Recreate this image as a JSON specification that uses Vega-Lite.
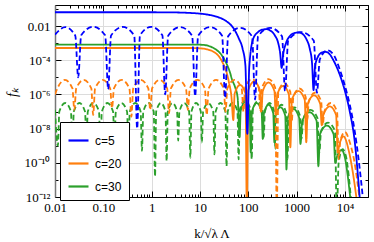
{
"$schema": "https://vega.github.io/schema/vega-lite/v6.json",
"width": 313, "height": 192,
"autosize": {"type": "none"},
"padding": {"left": 55, "top": 5, "right": 6, "bottom": 45},
"config": {"view": {"stroke": "black", "strokeWidth": 1}, "font": "Liberation Serif", "background": "white"},
"data": {"values": [
{"c":"c=30","t":"d","x":0.01,"y":1.259e-7},{"c":"c=30","t":"d","x":0.01148,"y":1e-9},{"c":"c=30","t":"d","x":0.0123,"y":1e-7},{"c":"c=30","t":"d","x":0.01622,"y":3.16e-7},{"c":"c=30","t":"d","x":0.02138,"y":1e-7},{"c":"c=30","t":"d","x":0.02291,"y":5.01e-10},{"c":"c=30","t":"d","x":0.02449,"y":1e-7},{"c":"c=30","t":"d","x":0.03199,"y":3.16e-7},{"c":"c=30","t":"d","x":0.04178,"y":1e-7},{"c":"c=30","t":"d","x":0.04467,"y":2e-9},{"c":"c=30","t":"d","x":0.04775,"y":1e-7},{"c":"c=30","t":"d","x":0.06237,"y":3.16e-7},{"c":"c=30","t":"d","x":0.08147,"y":1e-7},{"c":"c=30","t":"d","x":0.0871,"y":3.16e-10},{"c":"c=30","t":"d","x":0.09311,"y":1e-7},{"c":"c=30","t":"d","x":0.1216,"y":3.16e-7},{"c":"c=30","t":"d","x":0.1589,"y":1e-7},{"c":"c=30","t":"d","x":0.1698,"y":1.585e-9},{"c":"c=30","t":"d","x":0.1816,"y":1e-7},{"c":"c=30","t":"d","x":0.2371,"y":3.16e-7},{"c":"c=30","t":"d","x":0.3097,"y":1e-7},{"c":"c=30","t":"d","x":0.3311,"y":6.31e-10},{"c":"c=30","t":"d","x":0.3532,"y":1e-7},{"c":"c=30","t":"d","x":0.4571,"y":3.16e-7},{"c":"c=30","t":"d","x":0.5916,"y":1e-7},{"c":"c=30","t":"d","x":0.631,"y":5.01e-10},{"c":"c=30","t":"d","x":0.6714,"y":1e-7},{"c":"c=30","t":"d","x":0.861,"y":3.16e-7},{"c":"c=30","t":"d","x":1.104,"y":1e-7},{"c":"c=30","t":"d","x":1.175,"y":1.585e-11},{"c":"c=30","t":"d","x":1.242,"y":1e-7},{"c":"c=30","t":"d","x":1.549,"y":3.16e-7},{"c":"c=30","t":"d","x":1.932,"y":1e-7},{"c":"c=30","t":"d","x":2.042,"y":1.259e-10},{"c":"c=30","t":"d","x":2.158,"y":1e-7},{"c":"c=30","t":"d","x":2.692,"y":3.16e-7},{"c":"c=30","t":"d","x":3.357,"y":1e-7},{"c":"c=30","t":"d","x":3.548,"y":2e-9},{"c":"c=30","t":"d","x":3.758,"y":1e-7},{"c":"c=30","t":"d","x":4.732,"y":3.16e-7},{"c":"c=30","t":"d","x":5.957,"y":1e-7},{"c":"c=30","t":"d","x":6.31,"y":2e-10},{"c":"c=30","t":"d","x":6.668,"y":1e-7},{"c":"c=30","t":"d","x":8.318,"y":3.16e-7},{"c":"c=30","t":"d","x":10.38,"y":1e-7},{"c":"c=30","t":"d","x":10.96,"y":1.585e-9},{"c":"c=30","t":"d","x":11.64,"y":1e-7},{"c":"c=30","t":"d","x":14.79,"y":3.16e-7},{"c":"c=30","t":"d","x":18.79,"y":1e-7},{"c":"c=30","t":"d","x":19.95,"y":3.16e-10},{"c":"c=30","t":"d","x":21.13,"y":1e-7},{"c":"c=30","t":"d","x":26.61,"y":3.16e-7},{"c":"c=30","t":"d","x":33.5,"y":1e-7},{"c":"c=30","t":"d","x":35.48,"y":6.31e-11},{"c":"c=30","t":"d","x":37.58,"y":1e-7},{"c":"c=30","t":"d","x":47.32,"y":3.16e-7},{"c":"c=30","t":"d","x":59.57,"y":1e-7},{"c":"c=30","t":"d","x":63.1,"y":1.585e-10},{"c":"c=30","t":"d","x":67.14,"y":1.413e-7},{"c":"c=30","t":"d","x":86.1,"y":4.467e-7},{"c":"c=30","t":"d","x":110.4,"y":1.413e-7},{"c":"c=30","t":"d","x":117.5,"y":1.585e-10},{"c":"c=30","t":"d","x":124.5,"y":1.259e-7},{"c":"c=30","t":"d","x":156.7,"y":3.98e-7},{"c":"c=30","t":"d","x":197.2,"y":1.259e-7},{"c":"c=30","t":"d","x":208.9,"y":3.16e-9},{"c":"c=30","t":"d","x":220.8,"y":1e-7},{"c":"c=30","t":"d","x":275.4,"y":3.16e-7},{"c":"c=30","t":"d","x":343.6,"y":1e-7},{"c":"c=30","t":"d","x":363.1,"y":6.31e-10},{"c":"c=30","t":"d","x":384.6,"y":7.94e-8},{"c":"c=30","t":"d","x":484.2,"y":2.51e-7},{"c":"c=30","t":"d","x":609.5,"y":7.94e-8},{"c":"c=30","t":"d","x":645.7,"y":1.585e-10},{"c":"c=30","t":"d","x":690.2,"y":5.62e-8},{"c":"c=30","t":"d","x":901.6,"y":1.778e-7},{"c":"c=30","t":"d","x":1178,"y":5.62e-8},{"c":"c=30","t":"d","x":1259,"y":2.51e-9},{"c":"c=30","t":"d","x":1371,"y":3.98e-8},{"c":"c=30","t":"d","x":1928,"y":1.259e-7},{"c":"c=30","t":"d","x":2710,"y":3.98e-8},{"c":"c=30","t":"d","x":2951,"y":3.98e-10},{"c":"c=30","t":"d","x":3206,"y":7.08e-9},{"c":"c=30","t":"d","x":4467,"y":2.24e-8},{"c":"c=30","t":"d","x":6223,"y":7.08e-9},{"c":"c=30","t":"d","x":6761,"y":1e-13},{"c":"c=30","t":"d","x":7413,"y":1e-10},{"c":"c=30","t":"d","x":8913,"y":6.31e-10},{"c":"c=30","t":"d","x":10470,"y":2.51e-10},{"c":"c=30","t":"d","x":12020,"y":1.585e-11},{"c":"c=30","t":"d","x":13490,"y":5.01e-13},
{"c":"c=30","t":"s","x":0.01,"y":8.32e-4},{"c":"c=30","t":"s","x":1,"y":8.32e-4},{"c":"c=30","t":"s","x":7.943,"y":8.32e-4},{"c":"c=30","t":"s","x":11.75,"y":7.94e-4},{"c":"c=30","t":"s","x":15.85,"y":6.61e-4},{"c":"c=30","t":"s","x":22.39,"y":3.89e-4},{"c":"c=30","t":"s","x":28.18,"y":2e-4},{"c":"c=30","t":"s","x":35.48,"y":6.31e-5},{"c":"c=30","t":"s","x":41.69,"y":2e-5},{"c":"c=30","t":"s","x":45.71,"y":7.94e-6},{"c":"c=30","t":"s","x":53.7,"y":2.51e-6},{"c":"c=30","t":"s","x":60.26,"y":6.31e-7},{"c":"c=30","t":"s","x":66.07,"y":3.16e-9},{"c":"c=30","t":"s","x":69.66,"y":1.122e-7},{"c":"c=30","t":"s","x":86.1,"y":3.55e-7},{"c":"c=30","t":"s","x":106.4,"y":1.122e-7},{"c":"c=30","t":"s","x":112.2,"y":3.98e-10},{"c":"c=30","t":"s","x":118.9,"y":1e-7},{"c":"c=30","t":"s","x":149.6,"y":3.16e-7},{"c":"c=30","t":"s","x":188.4,"y":1e-7},{"c":"c=30","t":"s","x":199.5,"y":2.51e-9},{"c":"c=30","t":"s","x":210.9,"y":7.94e-8},{"c":"c=30","t":"s","x":263,"y":2.51e-7},{"c":"c=30","t":"s","x":328.1,"y":7.94e-8},{"c":"c=30","t":"s","x":346.7,"y":1.585e-9},{"c":"c=30","t":"s","x":367.3,"y":5.62e-8},{"c":"c=30","t":"s","x":462.4,"y":1.778e-7},{"c":"c=30","t":"s","x":582.1,"y":5.62e-8},{"c":"c=30","t":"s","x":616.6,"y":3.98e-11},{"c":"c=30","t":"s","x":659.2,"y":4.467e-8},{"c":"c=30","t":"s","x":861,"y":1.413e-7},{"c":"c=30","t":"s","x":1125,"y":4.467e-8},{"c":"c=30","t":"s","x":1202,"y":1.259e-9},{"c":"c=30","t":"s","x":1309,"y":2.88e-8},{"c":"c=30","t":"s","x":1841,"y":9.12e-8},{"c":"c=30","t":"s","x":2588,"y":2.88e-8},{"c":"c=30","t":"s","x":2818,"y":6.31e-11},{"c":"c=30","t":"s","x":3055,"y":4.79e-9},{"c":"c=30","t":"s","x":4217,"y":1.514e-8},{"c":"c=30","t":"s","x":5821,"y":4.79e-9},{"c":"c=30","t":"s","x":6310,"y":1e-10},{"c":"c=30","t":"s","x":6918,"y":2.51e-10},{"c":"c=30","t":"s","x":8511,"y":5.62e-10},{"c":"c=30","t":"s","x":10000,"y":2e-10},{"c":"c=30","t":"s","x":11480,"y":1.585e-11},{"c":"c=30","t":"s","x":13180,"y":5.01e-13},
{"c":"c=20","t":"d","x":0.01,"y":1e-6},{"c":"c=20","t":"d","x":0.01119,"y":2.24e-6},{"c":"c=20","t":"d","x":0.01603,"y":7.08e-6},{"c":"c=20","t":"d","x":0.02296,"y":2.24e-6},{"c":"c=20","t":"d","x":0.02512,"y":1.259e-7},{"c":"c=20","t":"d","x":0.02748,"y":2.24e-6},{"c":"c=20","t":"d","x":0.03936,"y":7.08e-6},{"c":"c=20","t":"d","x":0.05636,"y":2.24e-6},{"c":"c=20","t":"d","x":0.06166,"y":6.31e-8},{"c":"c=20","t":"d","x":0.06745,"y":2.24e-6},{"c":"c=20","t":"d","x":0.0966,"y":7.08e-6},{"c":"c=20","t":"d","x":0.1384,"y":2.24e-6},{"c":"c=20","t":"d","x":0.1514,"y":1.585e-7},{"c":"c=20","t":"d","x":0.166,"y":2.24e-6},{"c":"c=20","t":"d","x":0.2399,"y":7.08e-6},{"c":"c=20","t":"d","x":0.3467,"y":2.24e-6},{"c":"c=20","t":"d","x":0.3802,"y":5.01e-8},{"c":"c=20","t":"d","x":0.4159,"y":2.24e-6},{"c":"c=20","t":"d","x":0.5957,"y":7.08e-6},{"c":"c=20","t":"d","x":0.8531,"y":2.24e-6},{"c":"c=20","t":"d","x":0.9333,"y":1.259e-7},{"c":"c=20","t":"d","x":1.021,"y":2.24e-6},{"c":"c=20","t":"d","x":1.462,"y":7.08e-6},{"c":"c=20","t":"d","x":2.094,"y":2.24e-6},{"c":"c=20","t":"d","x":2.291,"y":7.94e-8},{"c":"c=20","t":"d","x":2.506,"y":2.24e-6},{"c":"c=20","t":"d","x":3.589,"y":7.08e-6},{"c":"c=20","t":"d","x":5.14,"y":2.24e-6},{"c":"c=20","t":"d","x":5.623,"y":1.259e-7},{"c":"c=20","t":"d","x":6.152,"y":2.24e-6},{"c":"c=20","t":"d","x":8.81,"y":7.08e-6},{"c":"c=20","t":"d","x":12.62,"y":2.24e-6},{"c":"c=20","t":"d","x":13.8,"y":6.31e-8},{"c":"c=20","t":"d","x":15.1,"y":2.24e-6},{"c":"c=20","t":"d","x":21.63,"y":7.08e-6},{"c":"c=20","t":"d","x":30.97,"y":2.24e-6},{"c":"c=20","t":"d","x":33.88,"y":1e-7},{"c":"c=20","t":"d","x":36.9,"y":2.24e-6},{"c":"c=20","t":"d","x":51.88,"y":7.08e-6},{"c":"c=20","t":"d","x":72.95,"y":2.24e-6},{"c":"c=20","t":"d","x":79.43,"y":1e-7},{"c":"c=20","t":"d","x":86.1,"y":2.51e-6},{"c":"c=20","t":"d","x":118.9,"y":7.94e-6},{"c":"c=20","t":"d","x":164.1,"y":2.51e-6},{"c":"c=20","t":"d","x":177.8,"y":1e-7},{"c":"c=20","t":"d","x":192.3,"y":2.51e-6},{"c":"c=20","t":"d","x":263,"y":7.94e-6},{"c":"c=20","t":"d","x":359.7,"y":2.51e-6},{"c":"c=20","t":"d","x":389,"y":1e-13},{"c":"c=20","t":"d","x":417.8,"y":1.413e-6},{"c":"c=20","t":"d","x":555.9,"y":4.467e-6},{"c":"c=20","t":"d","x":739.6,"y":1.413e-6},{"c":"c=20","t":"d","x":794.3,"y":2.51e-8},{"c":"c=20","t":"d","x":855.1,"y":7.08e-7},{"c":"c=20","t":"d","x":1148,"y":2.24e-6},{"c":"c=20","t":"d","x":1542,"y":7.08e-7},{"c":"c=20","t":"d","x":1660,"y":3.16e-8},{"c":"c=20","t":"d","x":1786,"y":3.98e-7},{"c":"c=20","t":"d","x":2399,"y":1.259e-6},{"c":"c=20","t":"d","x":3221,"y":3.98e-7},{"c":"c=20","t":"d","x":3467,"y":1.585e-8},{"c":"c=20","t":"d","x":3741,"y":1e-7},{"c":"c=20","t":"d","x":5070,"y":3.16e-7},{"c":"c=20","t":"d","x":6871,"y":1e-7},{"c":"c=20","t":"d","x":7413,"y":1.585e-10},{"c":"c=20","t":"d","x":8035,"y":2e-9},{"c":"c=20","t":"d","x":10000,"y":6.31e-9},{"c":"c=20","t":"d","x":12590,"y":1.585e-9},{"c":"c=20","t":"d","x":15850,"y":1e-10},{"c":"c=20","t":"d","x":20420,"y":5.01e-13},
{"c":"c=20","t":"s","x":0.01,"y":5.25e-4},{"c":"c=20","t":"s","x":1,"y":5.25e-4},{"c":"c=20","t":"s","x":6.31,"y":5.25e-4},{"c":"c=20","t":"s","x":10,"y":5.01e-4},{"c":"c=20","t":"s","x":14.13,"y":4.37e-4},{"c":"c=20","t":"s","x":19.05,"y":3.16e-4},{"c":"c=20","t":"s","x":25.12,"y":1.585e-4},{"c":"c=20","t":"s","x":30.2,"y":6.31e-5},{"c":"c=20","t":"s","x":35.48,"y":2e-5},{"c":"c=20","t":"s","x":39.81,"y":5.01e-6},{"c":"c=20","t":"s","x":44.67,"y":7.94e-7},{"c":"c=20","t":"s","x":48.98,"y":3.16e-8},{"c":"c=20","t":"s","x":52.24,"y":1.122e-6},{"c":"c=20","t":"s","x":67.61,"y":3.55e-6},{"c":"c=20","t":"s","x":87.5,"y":1.122e-6},{"c":"c=20","t":"s","x":93.33,"y":1e-13},{"c":"c=20","t":"s","x":100,"y":1.778e-6},{"c":"c=20","t":"s","x":131.8,"y":5.62e-6},{"c":"c=20","t":"s","x":173.8,"y":1.778e-6},{"c":"c=20","t":"s","x":186.2,"y":1e-7},{"c":"c=20","t":"s","x":199.5,"y":1.585e-6},{"c":"c=20","t":"s","x":263,"y":5.01e-6},{"c":"c=20","t":"s","x":346.7,"y":1.585e-6},{"c":"c=20","t":"s","x":371.5,"y":6.31e-8},{"c":"c=20","t":"s","x":398.1,"y":1e-6},{"c":"c=20","t":"s","x":524.8,"y":3.16e-6},{"c":"c=20","t":"s","x":691.8,"y":1e-6},{"c":"c=20","t":"s","x":741.3,"y":7.94e-10},{"c":"c=20","t":"s","x":799.8,"y":5.01e-7},{"c":"c=20","t":"s","x":1084,"y":1.585e-6},{"c":"c=20","t":"s","x":1469,"y":5.01e-7},{"c":"c=20","t":"s","x":1585,"y":1.585e-9},{"c":"c=20","t":"s","x":1706,"y":2.82e-7},{"c":"c=20","t":"s","x":2291,"y":8.91e-7},{"c":"c=20","t":"s","x":3076,"y":2.82e-7},{"c":"c=20","t":"s","x":3311,"y":1.585e-8},{"c":"c=20","t":"s","x":3573,"y":6.31e-8},{"c":"c=20","t":"s","x":4842,"y":2e-7},{"c":"c=20","t":"s","x":6561,"y":6.31e-8},{"c":"c=20","t":"s","x":7079,"y":3.98e-10},{"c":"c=20","t":"s","x":7586,"y":1e-9},{"c":"c=20","t":"s","x":9333,"y":3.55e-9},{"c":"c=20","t":"s","x":12020,"y":5.01e-10},{"c":"c=20","t":"s","x":14450,"y":3.16e-11},{"c":"c=20","t":"s","x":17780,"y":5.01e-13},
{"c":"c=5","t":"d","x":0.01,"y":3.16e-3},{"c":"c=5","t":"d","x":0.01622,"y":8.71e-3},{"c":"c=5","t":"d","x":0.0263,"y":2.75e-3},{"c":"c=5","t":"d","x":0.0302,"y":1e-5},{"c":"c=5","t":"d","x":0.03483,"y":2.88e-3},{"c":"c=5","t":"d","x":0.06166,"y":9.12e-3},{"c":"c=5","t":"d","x":0.1091,"y":2.88e-3},{"c":"c=5","t":"d","x":0.1259,"y":2e-6},{"c":"c=5","t":"d","x":0.1445,"y":2.82e-3},{"c":"c=5","t":"d","x":0.2512,"y":8.91e-3},{"c":"c=5","t":"d","x":0.4365,"y":2.82e-3},{"c":"c=5","t":"d","x":0.5012,"y":1e-8},{"c":"c=5","t":"d","x":0.5728,"y":2.88e-3},{"c":"c=5","t":"d","x":0.9772,"y":9.12e-3},{"c":"c=5","t":"d","x":1.667,"y":2.88e-3},{"c":"c=5","t":"d","x":1.905,"y":1e-6},{"c":"c=5","t":"d","x":2.198,"y":2.75e-3},{"c":"c=5","t":"d","x":3.89,"y":8.71e-3},{"c":"c=5","t":"d","x":6.887,"y":2.75e-3},{"c":"c=5","t":"d","x":7.943,"y":7.94e-7},{"c":"c=5","t":"d","x":9.162,"y":2.75e-3},{"c":"c=5","t":"d","x":16.22,"y":8.71e-3},{"c":"c=5","t":"d","x":28.71,"y":2.75e-3},{"c":"c=5","t":"d","x":33.11,"y":6.31e-7},{"c":"c=5","t":"d","x":38.19,"y":2.51e-3},{"c":"c=5","t":"d","x":67.61,"y":7.94e-3},{"c":"c=5","t":"d","x":119.7,"y":2.51e-3},{"c":"c=5","t":"d","x":138,"y":5.01e-7},{"c":"c=5","t":"d","x":159.2,"y":2.51e-3},{"c":"c=5","t":"d","x":281.8,"y":7.94e-3},{"c":"c=5","t":"d","x":498.9,"y":2.51e-3},{"c":"c=5","t":"d","x":575.4,"y":1.585e-6},{"c":"c=5","t":"d","x":669.9,"y":1.413e-3},{"c":"c=5","t":"d","x":1230,"y":4.467e-3},{"c":"c=5","t":"d","x":2259,"y":1.413e-3},{"c":"c=5","t":"d","x":2630,"y":1.259e-6},{"c":"c=5","t":"d","x":3020,"y":1.122e-4},{"c":"c=5","t":"d","x":4365,"y":3.89e-4},{"c":"c=5","t":"d","x":6026,"y":1.778e-4},{"c":"c=5","t":"d","x":7943,"y":2.512e-5},{"c":"c=5","t":"d","x":10000,"y":3.162e-6},{"c":"c=5","t":"d","x":12590,"y":2.512e-7},{"c":"c=5","t":"d","x":15850,"y":7.94e-9},{"c":"c=5","t":"d","x":19950,"y":6.31e-11},{"c":"c=5","t":"d","x":23990,"y":5.01e-13},
{"c":"c=5","t":"s","x":0.01,"y":0.0646},{"c":"c=5","t":"s","x":1,"y":0.0646},{"c":"c=5","t":"s","x":3.162,"y":0.0631},{"c":"c=5","t":"s","x":6.31,"y":0.0589},{"c":"c=5","t":"s","x":10,"y":0.0537},{"c":"c=5","t":"s","x":15.85,"y":0.0447},{"c":"c=5","t":"s","x":25.12,"y":0.0316},{"c":"c=5","t":"s","x":35.48,"y":0.0191},{"c":"c=5","t":"s","x":50.12,"y":7.08e-3},{"c":"c=5","t":"s","x":63.1,"y":2e-3},{"c":"c=5","t":"s","x":75.86,"y":5.01e-4},{"c":"c=5","t":"s","x":87.1,"y":5.01e-5},{"c":"c=5","t":"s","x":95.5,"y":5.01e-9},{"c":"c=5","t":"s","x":104.7,"y":3.98e-5},{"c":"c=5","t":"s","x":125.9,"y":1.778e-3},{"c":"c=5","t":"s","x":158.5,"y":4.47e-3},{"c":"c=5","t":"s","x":199.5,"y":6.31e-3},{"c":"c=5","t":"s","x":239.9,"y":6.61e-3},{"c":"c=5","t":"s","x":281.8,"y":5.62e-3},{"c":"c=5","t":"s","x":354.8,"y":2.82e-3},{"c":"c=5","t":"s","x":416.9,"y":1e-3},{"c":"c=5","t":"s","x":457.1,"y":2.51e-4},{"c":"c=5","t":"s","x":489.8,"y":3.55e-5},{"c":"c=5","t":"s","x":524.8,"y":2e-4},{"c":"c=5","t":"s","x":602.6,"y":1e-3},{"c":"c=5","t":"s","x":741.3,"y":2.82e-3},{"c":"c=5","t":"s","x":912,"y":3.98e-3},{"c":"c=5","t":"s","x":1096,"y":4.27e-3},{"c":"c=5","t":"s","x":1318,"y":3.55e-3},{"c":"c=5","t":"s","x":1585,"y":1.778e-3},{"c":"c=5","t":"s","x":1862,"y":5.01e-4},{"c":"c=5","t":"s","x":2089,"y":6.31e-5},{"c":"c=5","t":"s","x":2239,"y":1.778e-6},{"c":"c=5","t":"s","x":2399,"y":3.98e-5},{"c":"c=5","t":"s","x":2754,"y":1.585e-4},{"c":"c=5","t":"s","x":3311,"y":2.82e-4},{"c":"c=5","t":"s","x":3890,"y":3.16e-4},{"c":"c=5","t":"s","x":4677,"y":2.51e-4},{"c":"c=5","t":"s","x":6026,"y":7.94e-5},{"c":"c=5","t":"s","x":7943,"y":1.259e-5},{"c":"c=5","t":"s","x":10000,"y":1.585e-6},{"c":"c=5","t":"s","x":12590,"y":1e-7},{"c":"c=5","t":"s","x":15850,"y":2e-9},{"c":"c=5","t":"s","x":20420,"y":6.31e-13}
]},
"layer": [
{
"mark": {"type": "line", "interpolate": "monotone", "clip": true, "strokeWidth": 1.8},
"encoding": {
"x": {"field": "x", "type": "quantitative", "scale": {"type": "log", "domain": [0.01, 30000]},
 "axis": {"values": [0.01,0.02,0.03,0.04,0.05,0.06,0.07,0.08,0.09,0.1,0.2,0.3,0.4,0.5,0.6,0.7,0.8,0.9,1,2,3,4,5,6,7,8,9,10,20,30,40,50,60,70,80,90,100,200,300,400,500,600,700,800,900,1000,2000,3000,4000,5000,6000,7000,8000,9000,10000,20000],
  "labelExpr": "abs(log(datum.value)/LN10 - round(log(datum.value)/LN10)) < 0.001 ? (datum.value < 0.05 ? '0.01' : datum.value < 0.5 ? '0.10' : datum.value < 5 ? '1' : datum.value < 50 ? '10' : datum.value < 500 ? '100' : datum.value < 5000 ? '1000' : '10⁴') : ''",
  "labelOverlap": false, "labelFlush": false, "labelBound": false,
  "tickSize": {"condition": {"test": "abs(log(datum.value)/LN10 - round(log(datum.value)/LN10)) < 0.001", "value": -6}, "value": -3},
  "tickColor": "black", "domainColor": "black",
  "grid": true, "gridColor": "#dcdcdc",
  "gridOpacity": {"condition": {"test": "abs(log(datum.value)/LN10 - round(log(datum.value)/LN10)) < 0.001", "value": 1}, "value": 0},
  "labelFont": "Liberation Serif", "labelFontSize": 13, "labelColor": "black", "labelPadding": 10,
  "title": "k/√λ Λ", "titleFont": "Liberation Serif", "titleFontSize": 13, "titleFontWeight": "normal", "titleColor": "black", "titlePadding": 10}},
"y": {"field": "y", "type": "quantitative", "scale": {"type": "log", "domain": [1e-12, 0.172]},
 "axis": {"values": [1e-12,1e-11,1e-10,1e-9,1e-8,1e-7,1e-6,1e-5,1e-4,1e-3,0.01,0.1],
  "labelExpr": "abs(log(datum.value)/LN10/2 - round(log(datum.value)/LN10/2)) < 0.001 ? (datum.value > 0.005 ? '0.01' : datum.value > 5e-5 ? '10⁻⁴' : datum.value > 5e-7 ? '10⁻⁶' : datum.value > 5e-9 ? '10⁻⁸' : datum.value > 5e-11 ? '10⁻¹⁰' : '10⁻¹²') : ''",
  "labelOverlap": false, "labelFlush": false, "labelBound": false,
  "tickSize": {"condition": {"test": "abs(log(datum.value)/LN10/2 - round(log(datum.value)/LN10/2)) < 0.001", "value": -6}, "value": -3},
  "tickColor": "black", "domainColor": "#777777", "domainWidth": 1.5,
  "grid": true, "gridColor": "#dcdcdc",
  "gridOpacity": {"condition": {"test": "abs(log(datum.value)/LN10/2 - round(log(datum.value)/LN10/2)) < 0.001", "value": 1}, "value": 0},
  "labelFont": "Liberation Serif", "labelFontSize": 13, "labelColor": "black", "labelPadding": 11,
  "title": "fₖ", "titleFont": "Liberation Serif", "titleFontSize": 14, "titleFontStyle": "italic", "titleFontWeight": "normal", "titleColor": "black", "titleX": -43, "titleY": 87, "titleBaseline": "middle", "titleAlign": "center"}},
"color": {"field": "c", "type": "nominal", "scale": {"domain": ["c=5", "c=20", "c=30"], "range": ["#0000ff", "#ff7f0e", "#2ca02c"]},
 "legend": {"title": null, "orient": "none", "legendX": 5, "legendY": 117, "strokeColor": "black", "fillColor": "white", "padding": 7, "symbolType": "stroke", "symbolSize": 400, "symbolStrokeWidth": 2.2, "labelFont": "Liberation Sans", "labelFontSize": 12, "labelColor": "black", "rowPadding": 5, "labelOffset": 5, "cornerRadius": 0, "offset": 0}},
"strokeDash": {"field": "t", "type": "nominal", "scale": {"domain": ["s", "d"], "range": [[1, 0], [5.5, 3]]}, "legend": null}
}
},
{
"mark": {"type": "point", "opacity": 0},
"encoding": {
"x": {"field": "x", "type": "quantitative", "scale": {"type": "log", "domain": [0.01, 30000]},
 "axis": {"orient": "top", "values": [0.01,0.02,0.03,0.04,0.05,0.06,0.07,0.08,0.09,0.1,0.2,0.3,0.4,0.5,0.6,0.7,0.8,0.9,1,2,3,4,5,6,7,8,9,10,20,30,40,50,60,70,80,90,100,200,300,400,500,600,700,800,900,1000,2000,3000,4000,5000,6000,7000,8000,9000,10000,20000],
  "labels": false, "grid": false, "title": null, "tickColor": "black", "domainColor": "black",
  "tickSize": {"condition": {"test": "abs(log(datum.value)/LN10 - round(log(datum.value)/LN10)) < 0.001", "value": -6}, "value": -3}}},
"y": {"field": "y", "type": "quantitative", "scale": {"type": "log", "domain": [1e-12, 0.172]},
 "axis": {"orient": "right", "values": [1e-12,1e-11,1e-10,1e-9,1e-8,1e-7,1e-6,1e-5,1e-4,1e-3,0.01,0.1],
  "labels": false, "grid": false, "title": null, "tickColor": "black", "domainColor": "black",
  "tickSize": {"condition": {"test": "abs(log(datum.value)/LN10/2 - round(log(datum.value)/LN10/2)) < 0.001", "value": -6}, "value": -3}}}
}
}
],
"resolve": {"axis": {"x": "independent", "y": "independent"}}
}
